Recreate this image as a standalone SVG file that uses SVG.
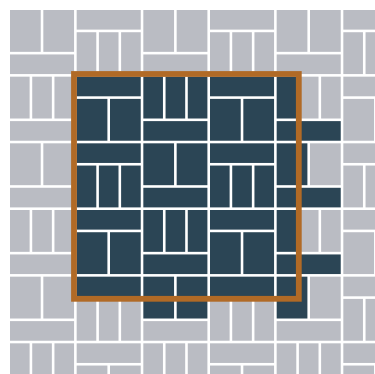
<svg xmlns="http://www.w3.org/2000/svg" xmlns:xlink="http://www.w3.org/1999/xlink" width="375" height="374" viewBox="0 0 375 374">
<style>
.g{fill:#babcc3}
.d{fill:#2b4555}
.frame{fill:none;stroke:#b16a26;stroke-width:5.8}
</style>
<defs>
<rect id="b" width="64.07" height="19.62"/>
<rect id="n" width="19.62" height="41.84"/>
<rect id="w" width="30.73" height="41.84"/>
</defs>
<rect width="375" height="374" fill="#ffffff"/>
<g id="tiles">
<!-- row 0 -->
<g id="r0">
<use href="#w" x="10" y="10" class="g"/><use href="#w" x="43.33" y="10" class="g"/><use href="#b" x="10" y="54.44" class="g"/>
<use href="#b" x="76.67" y="10" class="g"/><use href="#n" x="76.67" y="32.22" class="g"/><use href="#n" x="98.89" y="32.22" class="g"/><use href="#n" x="121.11" y="32.22" class="g"/>
<use href="#w" x="143.33" y="10" class="g"/><use href="#w" x="176.67" y="10" class="g"/><use href="#b" x="143.33" y="54.44" class="g"/>
<use href="#b" x="210" y="10" class="g"/><use href="#n" x="210" y="32.22" class="g"/><use href="#n" x="232.22" y="32.22" class="g"/><use href="#n" x="254.44" y="32.22" class="g"/>
<use href="#w" x="276.67" y="10" class="g"/><use href="#w" x="310" y="10" class="g"/><use href="#b" x="276.67" y="54.44" class="g"/>
<use href="#b" x="343.33" y="10" class="g"/><use href="#n" x="343.33" y="32.22" class="g"/><use href="#n" x="365.56" y="32.22" class="g"/>
</g>
<!-- row 1 -->
<g id="r1">
<use href="#n" x="10" y="76.67" class="g"/><use href="#n" x="32.22" y="76.67" class="g"/><use href="#n" x="54.44" y="76.67" class="g"/><use href="#b" x="10" y="121.11" class="g"/>
<use href="#b" x="76.67" y="76.67" class="d"/><use href="#w" x="76.67" y="98.89" class="d"/><use href="#w" x="110" y="98.89" class="d"/>
<use href="#n" x="143.33" y="76.67" class="d"/><use href="#n" x="165.56" y="76.67" class="d"/><use href="#n" x="187.78" y="76.67" class="d"/><use href="#b" x="143.33" y="121.11" class="d"/>
<use href="#b" x="210" y="76.67" class="d"/><use href="#w" x="210" y="98.89" class="d"/><use href="#w" x="243.33" y="98.89" class="d"/>
<use href="#n" x="276.67" y="76.67" class="d"/><use href="#n" x="298.89" y="76.67" class="g"/><use href="#n" x="321.11" y="76.67" class="g"/><use href="#b" x="276.67" y="121.11" class="d"/>
<use href="#b" x="343.33" y="76.67" class="g"/><use href="#w" x="343.33" y="98.89" class="g"/>
</g>
<!-- row 2 -->
<g id="r2">
<use href="#w" x="10" y="143.33" class="g"/><use href="#w" x="43.33" y="143.33" class="g"/><use href="#b" x="10" y="187.78" class="g"/>
<use href="#b" x="76.67" y="143.33" class="d"/><use href="#n" x="76.67" y="165.56" class="d"/><use href="#n" x="98.89" y="165.56" class="d"/><use href="#n" x="121.11" y="165.56" class="d"/>
<use href="#w" x="143.33" y="143.33" class="d"/><use href="#w" x="176.67" y="143.33" class="d"/><use href="#b" x="143.33" y="187.78" class="d"/>
<use href="#b" x="210" y="143.33" class="d"/><use href="#n" x="210" y="165.56" class="d"/><use href="#n" x="232.22" y="165.56" class="d"/><use href="#n" x="254.44" y="165.56" class="d"/>
<use href="#w" x="276.67" y="143.33" class="d"/><use href="#w" x="310" y="143.33" class="g"/><use href="#b" x="276.67" y="187.78" class="d"/>
<use href="#b" x="343.33" y="143.33" class="g"/><use href="#n" x="343.33" y="165.56" class="g"/><use href="#n" x="365.56" y="165.56" class="g"/>
</g>
<!-- row 3 -->
<g id="r3">
<use href="#n" x="10" y="210" class="g"/><use href="#n" x="32.22" y="210" class="g"/><use href="#n" x="54.44" y="210" class="g"/><use href="#b" x="10" y="254.44" class="g"/>
<use href="#b" x="76.67" y="210" class="d"/><use href="#w" x="76.67" y="232.22" class="d"/><use href="#w" x="110" y="232.22" class="d"/>
<use href="#n" x="143.33" y="210" class="d"/><use href="#n" x="165.56" y="210" class="d"/><use href="#n" x="187.78" y="210" class="d"/><use href="#b" x="143.33" y="254.44" class="d"/>
<use href="#b" x="210" y="210" class="d"/><use href="#w" x="210" y="232.22" class="d"/><use href="#w" x="243.33" y="232.22" class="d"/>
<use href="#n" x="276.67" y="210" class="d"/><use href="#n" x="298.89" y="210" class="g"/><use href="#n" x="321.11" y="210" class="g"/><use href="#b" x="276.67" y="254.44" class="d"/>
<use href="#b" x="343.33" y="210" class="g"/><use href="#w" x="343.33" y="232.22" class="g"/>
</g>
<!-- row 4 -->
<g id="r4">
<use href="#w" x="10" y="276.67" class="g"/><use href="#w" x="43.33" y="276.67" class="g"/><use href="#b" x="10" y="321.11" class="g"/>
<use href="#b" x="76.67" y="276.67" class="d"/><use href="#n" x="76.67" y="298.89" class="g"/><use href="#n" x="98.89" y="298.89" class="g"/><use href="#n" x="121.11" y="298.89" class="g"/>
<use href="#w" x="143.33" y="276.67" class="d"/><use href="#w" x="176.67" y="276.67" class="d"/><use href="#b" x="143.33" y="321.11" class="g"/>
<use href="#b" x="210" y="276.67" class="d"/><use href="#n" x="210" y="298.89" class="g"/><use href="#n" x="232.22" y="298.89" class="g"/><use href="#n" x="254.44" y="298.89" class="g"/>
<use href="#w" x="276.67" y="276.67" class="d"/><use href="#w" x="310" y="276.67" class="g"/><use href="#b" x="276.67" y="321.11" class="g"/>
<use href="#b" x="343.33" y="276.67" class="g"/><use href="#n" x="343.33" y="298.89" class="g"/><use href="#n" x="365.56" y="298.89" class="g"/>
</g>
<!-- row 5 -->
<g id="r5">
<use href="#n" x="10" y="343.33" class="g"/><use href="#n" x="32.22" y="343.33" class="g"/><use href="#n" x="54.44" y="343.33" class="g"/>
<use href="#b" x="76.67" y="343.33" class="g"/><use href="#w" x="76.67" y="365.56" class="g"/><use href="#w" x="110" y="365.56" class="g"/>
<use href="#n" x="143.33" y="343.33" class="g"/><use href="#n" x="165.56" y="343.33" class="g"/><use href="#n" x="187.78" y="343.33" class="g"/>
<use href="#b" x="210" y="343.33" class="g"/><use href="#w" x="210" y="365.56" class="g"/><use href="#w" x="243.33" y="365.56" class="g"/>
<use href="#n" x="276.67" y="343.33" class="g"/><use href="#n" x="298.89" y="343.33" class="g"/><use href="#n" x="321.11" y="343.33" class="g"/>
<use href="#b" x="343.33" y="343.33" class="g"/><use href="#w" x="343.33" y="365.56" class="g"/>
</g>
</g>
<g id="frame">
<rect class="frame" x="74" y="74" width="224.8" height="224.8"/>
</g>
</svg>
